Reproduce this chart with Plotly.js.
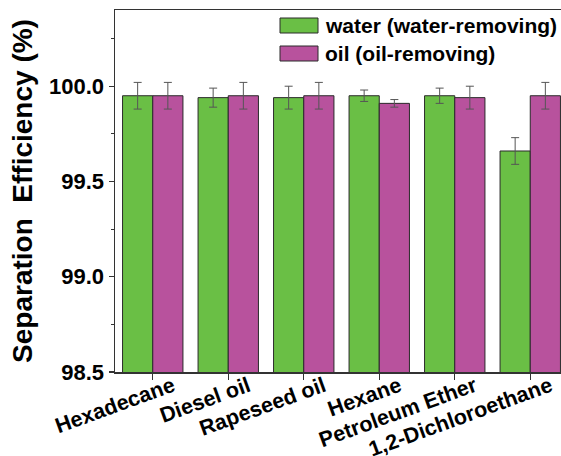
<!DOCTYPE html>
<html>
<head>
<meta charset="utf-8">
<script src="https://cdn.plot.ly/plotly-3.0.1.min.js"></script>
<style>
  html, body { margin: 0; padding: 0; width: 561px; height: 456px; overflow: hidden; background: #fff; }
  #chart { width: 576px; height: 456px; }
</style>
</head>
<body>
<div id="chart"></div>
<script>
const categories = ["Hexadecane", "Diesel oil", "Rapeseed oil", "Hexane", "Petroleum Ether", "1,2-Dichloroethane"];
const seriesNames = ["water (water-removing)", "oil (oil-removing)"];
const waterValues = [99.95, 99.94, 99.94, 99.95, 99.95, 99.66];
const waterErrors = [0.07, 0.05, 0.06, 0.03, 0.04, 0.07];
const oilValues = [99.95, 99.95, 99.95, 99.91, 99.94, 99.95];
const oilErrors = [0.07, 0.07, 0.07, 0.02, 0.06, 0.07];
const yTickVals = [98.5, 99.0, 99.5, 100.0];
const yTickText = ["98.5", "99.0", "99.5", "100.0"];

const colors = ["#6abf45", "#b8529d"];
const FONT = "Arial, 'Liberation Sans', Helvetica, sans-serif";

function barTrace(name, vals, errs, color) {
  return {
    type: "bar",
    name: name,
    x: categories,
    y: vals,
    marker: { color: color, line: { color: "#2a2a2a", width: 1 } },
    error_y: { type: "data", array: errs, visible: true, color: "#555555", thickness: 1, width: 4 },
    showlegend: false
  };
}

const data = [
  barTrace(seriesNames[0], waterValues, waterErrors, colors[0]),
  barTrace(seriesNames[1], oilValues, oilErrors, colors[1])
];

const L = 115, R = 568, T = 10, B = 372;
const pw = R - L, ph = B - T;
const px = v => (v - L) / pw;
const py = v => (B - v) / ph;

const legendRows = [
  { name: seriesNames[0], color: colors[0], top: 18, bottom: 33 },
  { name: seriesNames[1], color: colors[1], top: 46, bottom: 61 }
];

const shapes = legendRows.map(r => ({
  type: "rect", xref: "paper", yref: "paper",
  x0: px(280), x1: px(318), y0: py(r.bottom), y1: py(r.top),
  fillcolor: r.color, line: { color: "#2a2a2a", width: 1 }
}));
const annotations = legendRows.map(r => ({
  xref: "paper", yref: "paper", x: px(323), y: py((r.top + r.bottom) / 2),
  xanchor: "left", yanchor: "middle", showarrow: false,
  text: "<b>" + r.name + "</b>",
  font: { family: FONT, size: 21, color: "#000" }
}));

const layout = {
  width: 576, height: 456,
  margin: { l: L, r: 576 - R, t: T, b: 456 - B, pad: 0 },
  paper_bgcolor: "#fff", plot_bgcolor: "#fff",
  barmode: "group", bargap: 0.2, bargroupgap: 0,
  font: { family: FONT, color: "#000" },
  xaxis: {
    type: "category",
    range: [-0.5, categories.length - 0.5],
    showline: true, linecolor: "#333", linewidth: 1.5, mirror: true,
    ticks: "outside", ticklen: 6, tickwidth: 1.2, tickcolor: "#333",
    tickangle: -20,
    ticklabelshift: 20,
    ticklabelstandoff: -14,
    tickfont: { family: FONT, size: 21.5, color: "#000", weight: "bold" },
    showgrid: false, zeroline: false
  },
  xaxis2: {
    overlaying: "x", anchor: "y", side: "bottom",
    range: [-0.5, categories.length - 0.5],
    tickmode: "linear", tick0: 0.5, dtick: 1,
    ticks: "outside", ticklen: 3, tickwidth: 1.2, tickcolor: "#333",
    showticklabels: false, showgrid: false, zeroline: false, showline: false
  },
  yaxis: {
    range: [98.5, 100.4],
    tickvals: yTickVals, ticktext: yTickText,
    showline: true, linecolor: "#333", linewidth: 1.5, mirror: true,
    ticks: "outside", ticklen: 5, tickwidth: 1.2, tickcolor: "#333",
    minor: { tickvals: [98.75, 99.25, 99.75, 100.25], ticks: "outside", ticklen: 3, tickwidth: 1.2, tickcolor: "#333", showgrid: false },
    tickfont: { family: FONT, size: 22, color: "#000", weight: "bold" },
    showgrid: false, zeroline: false,
    title: { text: "<b>Separation  Efficiency (%)</b>", font: { family: FONT, size: 28, color: "#000" }, standoff: 8 }
  },
  shapes: shapes,
  annotations: annotations
};

Plotly.newPlot("chart", data, layout, { displayModeBar: false, staticPlot: true });
</script>
</body>
</html>
